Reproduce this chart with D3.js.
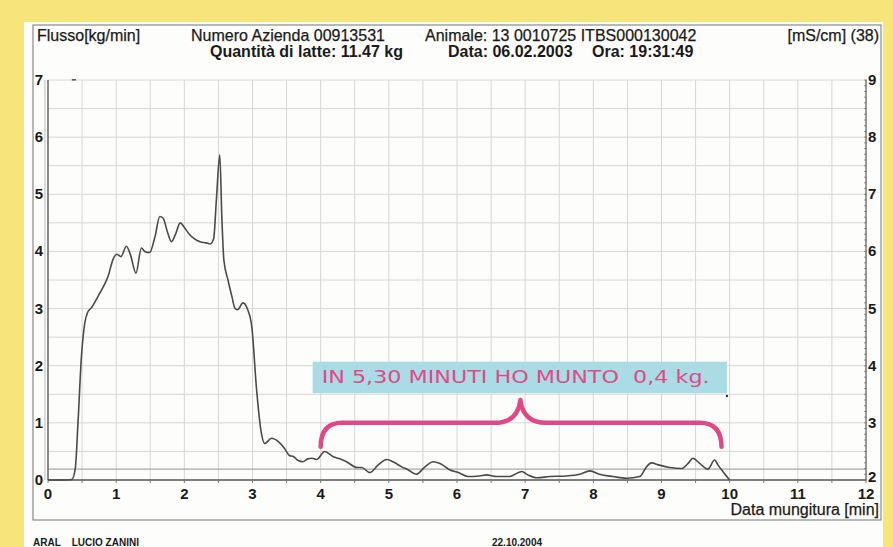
<!DOCTYPE html>
<html>
<head>
<meta charset="utf-8">
<script src="https://cdn.jsdelivr.net/npm/d3@7/dist/d3.min.js"></script>
<style>
  html, body { margin: 0; padding: 0; background: #f7e47a; }
  svg { display: block; }
  text { font-family: "Liberation Sans", Arial, sans-serif; fill: #1a1a1a; }
</style>
</head>
<body>
<svg id="chart" width="893" height="547"></svg>
<script>
// Milking flow curve: time in minutes, flow in kg/min
const flowTime = [0, 0.2, 0.35, 0.40, 0.44, 0.49, 0.54, 0.58, 0.64, 0.76, 0.88, 0.96, 1.01, 1.07, 1.15, 1.21, 1.29, 1.37, 1.42, 1.49,
  1.57, 1.64, 1.69, 1.75, 1.81, 1.87, 1.94, 2.0, 2.06, 2.15, 2.23, 2.32, 2.38, 2.43, 2.47, 2.52, 2.55, 2.58, 2.64, 2.70,
  2.74, 2.78, 2.86, 2.93, 2.99, 3.06, 3.13, 3.18, 3.28, 3.38, 3.47, 3.54, 3.60, 3.67, 3.74, 3.81, 3.87, 3.94, 4.06, 4.18,
  4.28, 4.38, 4.53, 4.60, 4.72, 4.84, 4.97, 5.06, 5.19, 5.28, 5.40, 5.53, 5.65, 5.75, 5.89, 6.02, 6.16, 6.33, 6.43, 6.58,
  6.77, 6.85, 6.95, 7.04, 7.17, 7.36, 7.60, 7.80, 7.95, 8.09, 8.29, 8.49, 8.68, 8.78, 8.85, 8.97, 9.12, 9.29, 9.39, 9.46,
  9.56, 9.68, 9.78, 9.83, 9.90, 10.0];
const flowValue = [0, 0, 0.01, 0.2, 1.0, 2.15, 2.75, 2.93, 3.02, 3.27, 3.56, 3.88, 3.95, 3.91, 4.09, 3.94, 3.62, 4.06, 4.0, 3.98,
  4.26, 4.61, 4.58, 4.35, 4.17, 4.3, 4.5, 4.42, 4.32, 4.22, 4.17, 4.15, 4.13, 4.22, 4.9, 5.69, 4.6, 3.85, 3.5, 3.2,
  3.01, 2.98, 3.1, 2.98, 2.68, 1.58, 0.82, 0.64, 0.73, 0.67, 0.55, 0.43, 0.41, 0.34, 0.32, 0.37, 0.38, 0.36, 0.5, 0.41,
  0.37, 0.32, 0.22, 0.22, 0.13, 0.26, 0.36, 0.32, 0.23, 0.18, 0.1, 0.23, 0.32, 0.29, 0.18, 0.13, 0.06, 0.07, 0.09, 0.06,
  0.06, 0.1, 0.15, 0.09, 0.04, 0.06, 0.07, 0.1, 0.16, 0.1, 0.06, 0.03, 0.06, 0.23, 0.3, 0.26, 0.22, 0.2, 0.29, 0.38,
  0.29, 0.19, 0.35, 0.26, 0.15, 0.0];

const xTicks = [0, 1, 2, 3, 4, 5, 6, 7, 8, 9, 10, 11, 12];
const yLeftTicks = [0, 1, 2, 3, 4, 5, 6, 7];
const yRightTicks = [2, 3, 4, 5, 6, 7, 8, 9];
const thresholdFlow = 0.19;

const headerLeft = "Flusso[kg/min]";
const headerLine1 = ["Numero Azienda 00913531", "Animale: 13 0010725 ITBS000130042"];
const headerRight = "[mS/cm] (38)";
const headerLine2 = ["Quantità di latte: 11.47 kg", "Data: 06.02.2003", "Ora: 19:31:49"];
const xAxisTitle = "Data mungitura [min]";
const footerLeft = "ARAL    LUCIO ZANINI";
const footerDate = "22.10.2004";
const noteText = "IN 5,30 MINUTI HO MUNTO  0,4 kg.";
// low-flow interval highlighted by the brace (minutes)
const noteStart = 4.0, noteEnd = 9.88;

const svg = d3.select("#chart");
const W = 893, H = 547;

// paper and frame
svg.append("rect").attr("x", 0).attr("y", 0).attr("width", W).attr("height", H).attr("fill", "#f7e47a");
svg.append("rect").attr("x", 24).attr("y", 22).attr("width", 859).attr("height", H - 22).attr("fill", "#fdfdfb");
svg.append("rect").attr("x", 33).attr("y", 25).attr("width", 848).attr("height", 495)
  .attr("fill", "none").attr("stroke", "#8a8a8a").attr("stroke-width", 1.2);

const x = d3.scaleLinear().domain([0, 12]).range([48, 866]);
const y = d3.scaleLinear().domain([0, 7]).range([480, 80]);
const yR = d3.scaleLinear().domain([2, 9]).range([480, 80]);

// grid every half unit
const g = svg.append("g");
g.selectAll("line.vg").data(d3.range(0, 12.01, 0.5)).join("line")
  .attr("x1", d => x(d)).attr("x2", d => x(d)).attr("y1", y(7)).attr("y2", y(0))
  .attr("stroke", "#d6d6d6").attr("stroke-width", 1);
g.selectAll("line.hg").data(d3.range(0.5, 7.01, 0.5)).join("line")
  .attr("x1", x(0)).attr("x2", x(12)).attr("y1", d => y(d)).attr("y2", d => y(d))
  .attr("stroke", "#d6d6d6").attr("stroke-width", 1);

// threshold line
g.append("line").attr("x1", x(0)).attr("x2", x(12))
  .attr("y1", y(thresholdFlow)).attr("y2", y(thresholdFlow))
  .attr("stroke", "#a8a8a8").attr("stroke-width", 1.2);

// axes lines
svg.append("line").attr("x1", x(0)).attr("x2", x(0)).attr("y1", y(7)).attr("y2", y(0)).attr("stroke", "#555").attr("stroke-width", 1.3);
svg.append("line").attr("x1", x(0) - 3).attr("x2", x(0) - 3).attr("y1", y(7)).attr("y2", y(0)).attr("stroke", "#bbb").attr("stroke-width", 1);
svg.append("line").attr("x1", x(12)).attr("x2", x(12)).attr("y1", y(7)).attr("y2", y(0)).attr("stroke", "#666").attr("stroke-width", 1.2);
svg.append("line").attr("x1", x(0)).attr("x2", x(12)).attr("y1", y(0)).attr("y2", y(0)).attr("stroke", "#555").attr("stroke-width", 1.3);

// minor ticks on right axis
svg.selectAll("line.rmt").data(d3.range(2, 9.001, 0.1)).join("line")
  .attr("x1", x(12) - 2).attr("x2", x(12) + 1).attr("y1", d => yR(d)).attr("y2", d => yR(d))
  .attr("stroke", "#777").attr("stroke-width", 0.8);
// minor ticks on bottom axis
svg.selectAll("line.bmt").data(d3.range(0, 12.001, 0.5)).join("line")
  .attr("x1", d => x(d)).attr("x2", d => x(d)).attr("y1", y(0)).attr("y2", y(0) + 3)
  .attr("stroke", "#777").attr("stroke-width", 1);

// tick labels
const tickFont = { size: "15px", weight: "bold" };
svg.selectAll("text.xt").data(xTicks).join("text")
  .attr("x", d => x(d)).attr("y", 499).attr("text-anchor", "middle")
  .style("font-size", tickFont.size).style("font-weight", tickFont.weight).text(d => d);
svg.selectAll("text.yl").data(yLeftTicks).join("text")
  .attr("x", 43).attr("y", d => y(d) + 5).attr("text-anchor", "end")
  .style("font-size", tickFont.size).style("font-weight", tickFont.weight).text(d => d);
svg.selectAll("text.yr").data(yRightTicks).join("text")
  .attr("x", 868).attr("y", d => yR(d) + (d === 2 ? 2 : 5)).attr("text-anchor", "start")
  .style("font-size", tickFont.size).style("font-weight", tickFont.weight).text(d => d);

// flow curve
const line = d3.line().x((d, i) => x(flowTime[i])).y(d => y(d)).curve(d3.curveMonotoneX);
svg.append("path").datum(flowValue).attr("d", line)
  .attr("fill", "none").attr("stroke", "#4a4a4a").attr("stroke-width", 1.6).attr("stroke-linejoin", "round");

// header
const hdr = (tx, px, py, bold, anchor) => svg.append("text").attr("x", px).attr("y", py)
  .attr("text-anchor", anchor || "start").style("font-size", "16px")
  .style("font-weight", bold ? "bold" : "normal").style("stroke", "#1a1a1a").style("stroke-width", bold ? 0 : 0.25)
  .text(tx);
hdr(headerLeft, 37, 41, false);
hdr(headerLine1[0], 191, 41, false);
hdr(headerLine1[1], 425, 41, false);
hdr(headerRight, 879, 41, false, "end");
const h2x = [210, 448, 592];
headerLine2.forEach((t, i) => hdr(t, h2x[i], 57, true));

// axis title and footer
hdr(xAxisTitle, 879, 515, false, "end");
svg.append("text").attr("x", 33).attr("y", 546).style("font-size", "10px").style("font-weight", "bold")
  .attr("xml:space", "preserve").style("white-space", "pre").text(footerLeft);
svg.append("text").attr("x", 492).attr("y", 546).style("font-size", "10px").style("font-weight", "bold").text(footerDate);

// note box
svg.append("rect").attr("x", x(noteStart) - 8).attr("y", y(2.07))
  .attr("width", x(noteEnd + 0.08) - x(noteStart) + 8).attr("height", y(1.52) - y(2.07))
  .attr("fill", "#a9dce4");
svg.append("text").attr("x", x(noteStart) + 1).attr("y", y(1.69))
  .attr("textLength", 388).attr("lengthAdjust", "spacingAndGlyphs")
  .style("font-family", "'DejaVu Sans', sans-serif").style("font-size", "17px")
  .style("fill", "#e2488a").style("white-space", "pre").attr("xml:space", "preserve").text(noteText);
svg.append("circle").attr("cx", x(noteEnd + 0.08)).attr("cy", y(1.47)).attr("r", 1.2).attr("fill", "#333");
svg.append("rect").attr("x", x(0.35)).attr("y", y(7) - 1).attr("width", 4).attr("height", 1.6).attr("fill", "#555");

// brace over the low-flow interval
const mid = (noteStart + noteEnd) / 2 - 0.01;
const bLow = 0.58, bLevel = 1.0, bTip = 1.4;
const p = d3.path();
p.moveTo(x(noteStart), y(bLow));
p.quadraticCurveTo(x(noteStart), y(bLevel), x(noteStart + 0.32), y(bLevel));
p.lineTo(x(mid - 0.38), y(bLevel));
p.quadraticCurveTo(x(mid - 0.04), y(bLevel), x(mid), y(bTip));
p.quadraticCurveTo(x(mid + 0.04), y(bLevel), x(mid + 0.38), y(bLevel));
p.lineTo(x(noteEnd - 0.32), y(bLevel));
p.quadraticCurveTo(x(noteEnd), y(bLevel), x(noteEnd), y(bLow));
svg.append("path").attr("d", p.toString()).attr("fill", "none")
  .attr("stroke", "#df4a86").attr("stroke-width", 4.5).attr("stroke-linecap", "round").attr("stroke-linejoin", "round");
</script>
</body>
</html>
